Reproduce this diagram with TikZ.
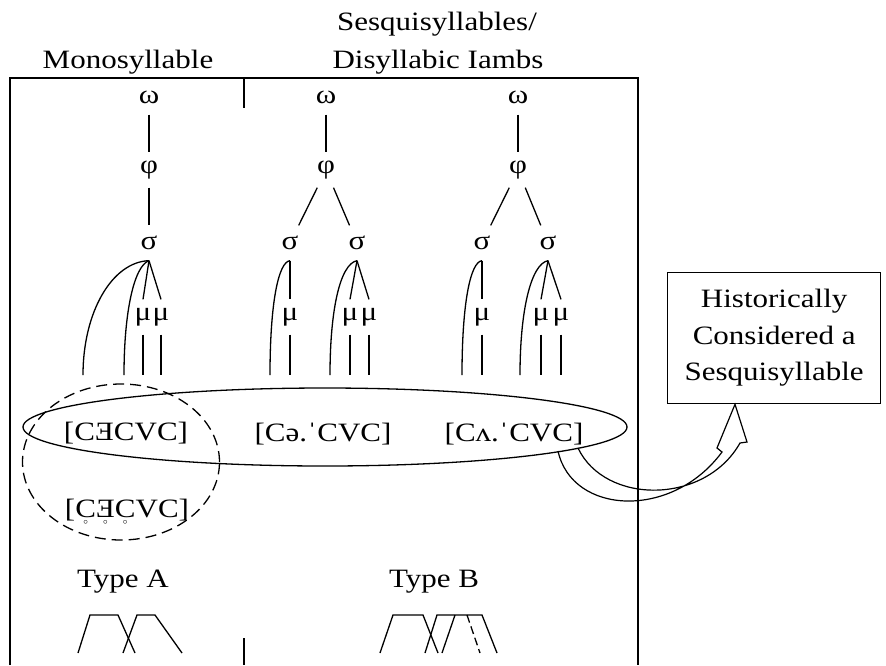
\documentclass[tikz,border=0pt]{standalone}
\usepackage{fontspec}
\setmainfont{Liberation Serif}[FakeStretch=1.17]
\usepackage{graphicx}
\usetikzlibrary{shapes.geometric}
\newcommand\Erev{\reflectbox{E}}
\newcommand\rng[1]{\ooalign{#1\cr\hidewidth\raisebox{-0.3em}{\fontsize{9}{9}\selectfont$\circ$}\hidewidth\cr}}
\begin{document}
\begin{tikzpicture}[x=1pt,y=-1pt,line width=1.3pt,
  lbl/.style={font=\fontsize{26.5}{36.5}\selectfont,inner sep=0},
  gr/.style={font=\fontsize{26.5}{36.5}\selectfont,inner sep=0,minimum height=34pt},
  dsh/.style={dash pattern=on 11pt off 6pt}]
\useasboundingbox (0,0) rectangle (886,665);
% frame
\draw (10,665) -- (10,78) -- (638,78) -- (638,665);
\draw (244,78) -- (244,108);
\draw (244,638) -- (244,665);
% headings
\node[lbl,anchor=base] (hmono) at (128,68) {Monosyllable};
\node[lbl,anchor=base] (hsesq) at (437,30) {Sesquisyllables/};
\node[lbl,anchor=base] (hdisy) at (438,68) {Disyllabic Iambs};
% tree 1
\node[gr] (w1) at (149,97) {ω};
\node[gr] (p1) at (149,170) {φ};
\node[gr] (s1) at (149,243) {σ};
\node[gr] (m1a) at (143,317) {μ};
\node[gr] (m1b) at (161,317) {μ};
\coordinate (c1a) at (83,375);
\coordinate (c1b) at (124,375);
\coordinate (b1a) at (143,375);
\coordinate (b1b) at (161,375);
\draw (w1) -- (p1);
\draw (p1) -- (s1);
\draw (s1.south) -- (m1a.north);
\draw (s1.south) -- (m1b.north);
\draw (m1a.south) -- (b1a);
\draw (m1b.south) -- (b1b);
\draw (s1.south) .. controls (112,262) and (83,312) .. (c1a);
\draw (s1.south) .. controls (134,266) and (124,312) .. (c1b);
% tree 2
\node[gr] (w2) at (326,97) {ω};
\node[gr] (p2) at (326,170) {φ};
\node[gr] (s2a) at (290,243) {σ};
\node[gr] (s2b) at (357,243) {σ};
\node[gr] (m2a) at (290,317) {μ};
\node[gr] (m2b) at (350,317) {μ};
\node[gr] (m2c) at (369,317) {μ};
\coordinate (c2a) at (270,375);
\coordinate (c2b) at (330,375);
\coordinate (b2a) at (290,375);
\coordinate (b2b) at (350,375);
\coordinate (b2c) at (369,375);
\draw (w2) -- (p2);
\draw (p2) -- (s2a);
\draw (p2) -- (s2b);
\draw (s2a) -- (m2a);
\draw (m2a.south) -- (b2a);
\draw (s2a.south) .. controls (278,262) and (270,305) .. (c2a);
\draw (s2b.south) -- (m2b.north);
\draw (s2b.south) -- (m2c.north);
\draw (m2b.south) -- (b2b);
\draw (m2c.south) -- (b2c);
\draw (s2b.south) .. controls (340,264) and (330,310) .. (c2b);
% tree 3
\node[gr] (w3) at (518,97) {ω};
\node[gr] (p3) at (518,170) {φ};
\node[gr] (s3a) at (482,243) {σ};
\node[gr] (s3b) at (548,243) {σ};
\node[gr] (m3a) at (482,317) {μ};
\node[gr] (m3b) at (541,317) {μ};
\node[gr] (m3c) at (561,317) {μ};
\coordinate (c3a) at (462,375);
\coordinate (c3b) at (520,375);
\coordinate (b3a) at (482,375);
\coordinate (b3b) at (541,375);
\coordinate (b3c) at (561,375);
\draw (w3) -- (p3);
\draw (p3) -- (s3a);
\draw (p3) -- (s3b);
\draw (s3a) -- (m3a);
\draw (m3a.south) -- (b3a);
\draw (s3a.south) .. controls (470,262) and (462,305) .. (c3a);
\draw (s3b.south) -- (m3b.north);
\draw (s3b.south) -- (m3c.north);
\draw (m3b.south) -- (b3b);
\draw (m3c.south) -- (b3c);
\draw (s3b.south) .. controls (531,264) and (520,310) .. (c3b);
% ellipses
\node[draw,ellipse,minimum width=604pt,minimum height=78pt,inner sep=0] (ell) at (325,427) {};
\node[draw,dsh,ellipse,minimum width=197pt,minimum height=156pt,inner sep=0] (dell) at (121,462) {};
% forms
\node[lbl,anchor=base] (t1) at (126,440) {[C\Erev CVC]};
\node[lbl,anchor=base] (t2) at (323,441) {[Cə.ˈCVC]};
\node[lbl,anchor=base] (t3) at (514,441) {[Cʌ.ˈCVC]};
\node[lbl,anchor=base] (t4) at (127,517) {[\rng{C}\rng{\Erev}\rng{C}VC]};
% types
\node[lbl,anchor=base] (ta) at (123,587) {Type A};
\node[lbl,anchor=base] (tb) at (434,587) {Type B};
\draw (78,653) -- (90,615) -- (118,615) -- (135,653);
\draw (123,653) -- (137,615) -- (155,615) -- (182,653);
\draw (380,653) -- (393,615) -- (423,615) -- (438,653);
\draw (425,653) -- (437,615) -- (482,615) -- (497,653);
\draw (442,653) -- (455,615);
\draw[dash pattern=on 8pt off 4pt] (467,615) -- (480,653);
% box
\node[draw,lbl,align=center,minimum width=213pt,minimum height=131pt,anchor=north west] (hist) at (667,272) {Historically\\Considered a\\Sesquisyllable};
% curved hollow arrow
\coordinate (a1) at (558,451);
\coordinate (a2) at (578,448);
\draw[line width=1.2pt,line join=miter] (a1) .. controls (572,515) and (672,520) .. (722,452) -- (717,448) -- (hist.south -| 735,0) -- (747,442) -- (740,443) .. controls (705,505) and (605,505) .. (a2);
\end{tikzpicture}
\end{document}
